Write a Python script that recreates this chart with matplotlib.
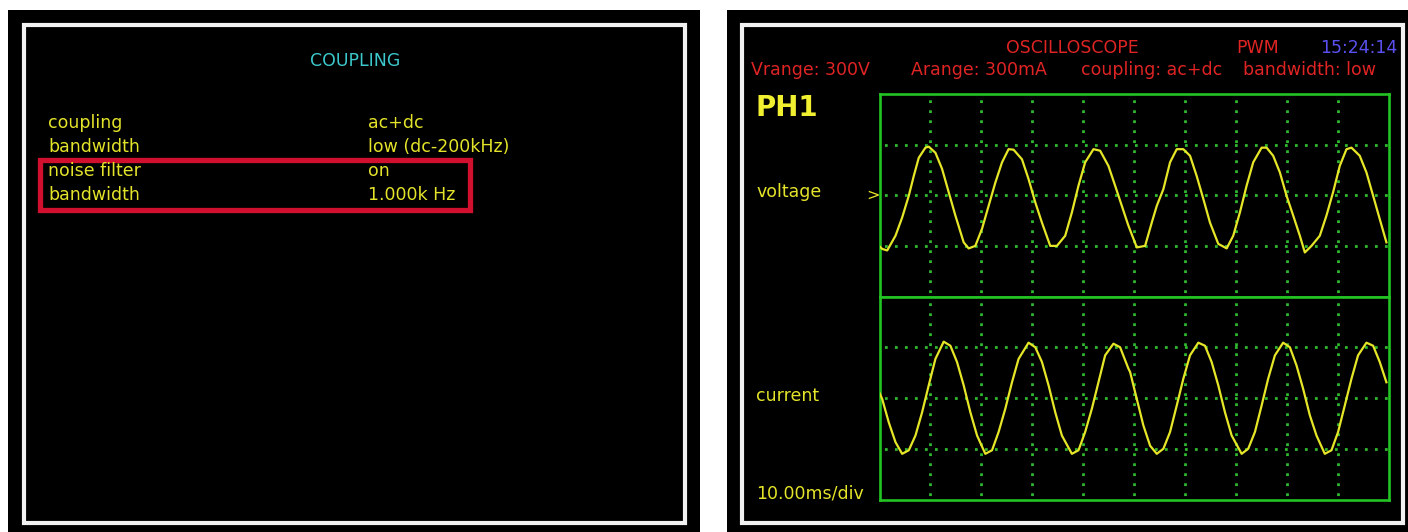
import numpy as np
import matplotlib.pyplot as plt
from matplotlib.patches import Rectangle

# settings screen (left)
settings_title = 'COUPLING'
settings_labels = ['coupling', 'bandwidth', 'noise filter', 'bandwidth']
settings_values = ['ac+dc', 'low (dc-200kHz)', 'on', '1.000k Hz']

# scope header (right)
header_top = ['OSCILLOSCOPE', 'PWM', '15:24:14']
header_info = ['Vrange: 300V', 'Arange: 300mA', 'coupling: ac+dc', 'bandwidth: low']
channel = 'PH1'
trace_names = ['voltage', 'current']
timebase = '10.00ms/div'

# traces: time in ms (10 ms/div), amplitude in divisions
voltage_t = [0.0, 0.53, 1.51, 3.14, 4.45, 5.75, 6.73, 7.71, 9.02, 9.67, 10.98, 12.29, 13.59,
             14.90, 16.53, 17.51, 18.82, 20.14, 21.43, 22.75, 24.06, 25.35, 26.33, 27.98,
             29.27, 30.59, 31.90, 33.53, 34.84, 36.47, 37.78, 39.08, 40.39, 42.02, 43.33,
             44.96, 46.27, 47.59, 48.88, 50.53, 52.16, 53.47, 54.45, 55.75, 57.06, 58.37,
             59.67, 60.98, 62.29, 63.59, 64.90, 66.53, 68.18, 69.47, 70.78, 72.10, 73.39,
             75.04, 76.02, 77.31, 78.63, 79.94, 81.24, 82.55, 83.53, 84.84, 86.47, 87.78,
             89.08, 90.39, 91.71, 92.69, 94.31, 95.63, 96.94, 98.24, 99.55]
voltage_v = [-1.01, -1.06, -1.09, -0.80, -0.44, -0.01, 0.38, 0.74, 0.94, 0.96, 0.84, 0.52, 0.06,
             -0.40, -0.93, -1.05, -1.00, -0.66, -0.21, 0.25, 0.65, 0.91, 0.90, 0.71,
             0.32, -0.14, -0.54, -1.00, -1.00, -0.80, -0.34, 0.19, 0.65, 0.91, 0.88,
             0.58, 0.19, -0.21, -0.60, -1.03, -1.00, -0.54, -0.21, 0.12, 0.65, 0.91,
             0.91, 0.78, 0.38, -0.07, -0.54, -0.96, -1.05, -0.80, -0.34, 0.19, 0.65,
             0.94, 0.94, 0.78, 0.45, -0.01, -0.40, -0.80, -1.13, -1.00, -0.80, -0.40,
             0.06, 0.58, 0.91, 0.94, 0.78, 0.45, -0.01, -0.47, -0.93]

current_t = [0.0, 0.53, 1.82, 3.14, 4.45, 5.75, 7.06, 8.37, 9.67, 10.98, 12.61, 13.92, 15.22,
             16.53, 17.84, 19.16, 20.78, 22.10, 23.39, 24.71, 26.02, 27.31, 29.27, 30.59,
             31.90, 33.20, 34.51, 35.82, 37.78, 39.08, 40.39, 41.71, 43.00, 44.31, 45.94,
             47.25, 48.88, 49.22, 50.53, 51.82, 53.14, 54.45, 55.75, 57.06, 58.37, 59.67,
             60.98, 62.61, 63.92, 65.22, 66.53, 67.84, 69.16, 71.12, 72.41, 73.73, 75.04,
             76.33, 77.65, 79.27, 80.59, 81.90, 83.20, 84.51, 85.82, 87.45, 88.76, 90.06,
             91.37, 92.69, 93.98, 95.63, 96.94, 98.24, 99.55]
current_i = [0.10, -0.02, -0.48, -0.87, -1.10, -1.03, -0.74, -0.28, 0.25, 0.77, 1.11, 1.03, 0.71,
             0.25, -0.28, -0.74, -1.10, -1.03, -0.67, -0.21, 0.31, 0.77, 1.09, 1.00,
             0.71, 0.25, -0.28, -0.74, -1.10, -1.03, -0.67, -0.21, 0.31, 0.84, 1.07,
             1.00, 0.58, 0.51, -0.02, -0.54, -0.94, -1.10, -1.00, -0.67, -0.15, 0.38,
             0.84, 1.09, 1.03, 0.71, 0.25, -0.28, -0.74, -1.10, -1.00, -0.67, -0.15,
             0.38, 0.84, 1.09, 1.00, 0.64, 0.18, -0.34, -0.74, -1.10, -1.03, -0.67,
             -0.15, 0.38, 0.84, 1.09, 1.03, 0.71, 0.31]

W, H = 1408, 532
YEL = '#e4e42a'
RED = '#e02424'
GREEN = '#22c322'
DOT = '#30b830'
FS = 12.5

plt.rcParams['font.family'] = ['DejaVu Sans']


def frac(x0, y0, x1, y1):
    # pixel box (top-left origin) -> figure fraction
    return [x0 / W, 1 - y1 / H, (x1 - x0) / W, (y1 - y0) / H]


fig = plt.figure(figsize=(W / 100, H / 100), dpi=100)
fig.patch.set_facecolor('white')

bg = fig.add_axes([0, 0, 1, 1])
bg.set_xlim(0, W)
bg.set_ylim(H, 0)
bg.axis('off')

# the two screens
for x0, x1, bx0, bx1 in [(8, 700, 24, 685), (727, W, 742, 1403)]:
    bg.add_patch(Rectangle((x0, 10), x1 - x0, H - 10, facecolor='black', edgecolor='none'))
    bg.add_patch(Rectangle((bx0, 24.5), bx1 - bx0, 523 - 24.5, facecolor='none',
                           edgecolor='#f2f2f2', linewidth=3))

# left screen: coupling settings
bg.text(355, 66.5, settings_title, color='#3cc8cc', fontsize=FS, ha='center', va='baseline')
for i, (lab, val) in enumerate(zip(settings_labels, settings_values)):
    yb = 128 + 24 * i
    bg.text(48, yb, lab, color=YEL, fontsize=FS, va='baseline')
    bg.text(368, yb, val, color=YEL, fontsize=FS, va='baseline')
bg.add_patch(Rectangle((40, 159.5), 429.5, 50, facecolor='none', edgecolor='#d0102e',
                       linewidth=3.8))

# right screen: header
bg.text(1072, 53, header_top[0], color=RED, fontsize=FS, ha='center', va='baseline')
bg.text(1258, 53, header_top[1], color=RED, fontsize=FS, ha='center', va='baseline')
bg.text(1359, 53, header_top[2], color='#5a50f0', fontsize=FS, ha='center', va='baseline')
for x, s in zip([751, 911, 1081, 1243], header_info):
    bg.text(x, 75, s, color=RED, fontsize=FS, va='baseline')

bg.text(756, 116.5, channel, color='#f0f030', fontsize=20, fontweight='bold', va='baseline')
bg.text(756, 197, trace_names[0], color=YEL, fontsize=FS, va='baseline')
bg.text(866, 200, '>', color=YEL, fontsize=FS - 1, va='baseline')
bg.text(756, 401, trace_names[1], color=YEL, fontsize=FS, va='baseline')
bg.text(756, 499, timebase, color=YEL, fontsize=FS, va='baseline')

# scope graticules
ax_v = fig.add_axes(frac(879.5, 94, 1388.7, 296.5))
ax_i = fig.add_axes(frac(879.5, 296.5, 1388.7, 499.5))
for ax, t, y in [(ax_v, voltage_t, voltage_v), (ax_i, current_t, current_i)]:
    ax.set_facecolor('black')
    ax.set_xlim(0, 100)
    ax.set_ylim(-2, 2)
    ax.set_xticks(np.arange(10, 100, 10))
    ax.set_yticks([-1, 0, 1])
    ax.tick_params(length=0, labelbottom=False, labelleft=False)
    ax.grid(True, color=DOT, linestyle=(2, (1, 2.6)), linewidth=2.0)
    for sp in ax.spines.values():
        sp.set_color(GREEN)
        sp.set_linewidth(1.9)
    ax.plot(t, y, color='#e6e628', linewidth=1.6, zorder=3)

plt.savefig('out.png', dpi=100, facecolor=fig.get_facecolor())
